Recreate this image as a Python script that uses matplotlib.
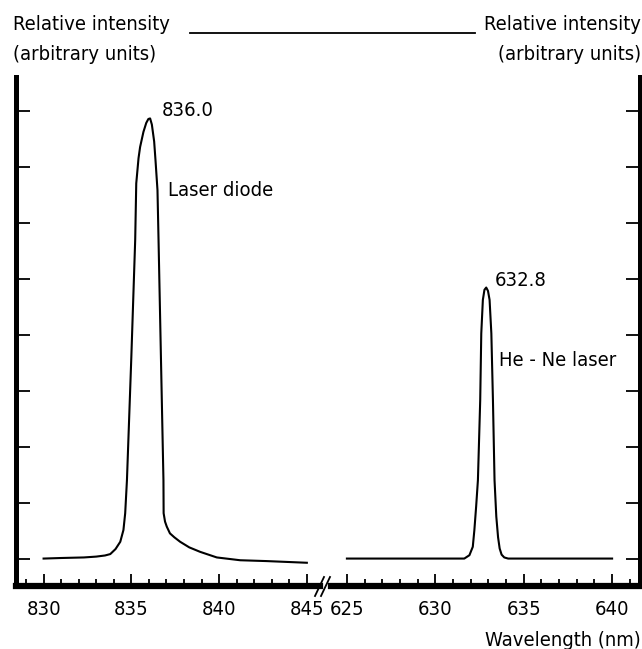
import matplotlib
matplotlib.use('Agg')
import matplotlib.pyplot as plt
from matplotlib.lines import Line2D
from matplotlib.ticker import MultipleLocator

# spectrum of the laser diode (nm, relative intensity)
laser_wl = [830.0, 831.0, 832.3, 833.0, 833.5, 833.8, 834.1, 834.37, 834.55, 834.65,
            834.75, 835.0, 835.22, 835.28, 835.41, 835.5, 835.69, 835.85, 835.97, 836.07,
            836.17, 836.3, 836.38, 836.49, 836.55, 836.69, 836.83, 836.84, 836.92, 837.02,
            837.2, 837.45, 837.78, 838.3, 838.92, 839.87, 841.2, 842.7, 845.0]
laser_int = [0.0, 0.01, 0.02, 0.035, 0.055, 0.08, 0.17, 0.3, 0.51, 0.81,
             1.40, 3.6, 5.69, 6.7, 7.15, 7.35, 7.62, 7.78, 7.85, 7.86,
             7.75, 7.45, 7.1, 6.58, 5.69, 3.54, 1.40, 0.81, 0.66, 0.57,
             0.45, 0.38, 0.30, 0.2, 0.12, 0.02, -0.03, -0.045, -0.075]

# He-Ne laser line
hene_wl = [625.0, 628.0, 631.0, 631.64, 631.93, 632.12, 632.21, 632.31, 632.41, 632.54,
           632.6, 632.69, 632.78, 632.88, 632.98, 633.07, 633.17, 633.26, 633.35, 633.45,
           633.55, 633.64, 633.75, 633.9, 634.12, 637.0, 640.0]
hene_int = [0.0, 0.0, 0.0, 0.0, 0.06, 0.21, 0.51, 0.93, 1.40, 2.83,
            4.02, 4.62, 4.80, 4.84, 4.78, 4.62, 4.02, 2.83, 1.40, 0.75,
            0.38, 0.18, 0.07, 0.02, 0.0, 0.0, 0.0]

left_ticks = [830, 835, 840, 845]
right_ticks = [625, 630, 635, 640]
y_ticks = [0, 1, 2, 3, 4, 5, 6, 7, 8]

# narrow lettering like the original drawing
plt.rcParams['font.family'] = 'DejaVu Sans'
plt.rcParams['font.stretch'] = 'condensed'

fs = 14.5
W, H = 642, 649

fig = plt.figure(figsize=(W / 100, H / 100), dpi=100)
ax1 = fig.add_axes([15.5 / W, 63 / H, (320 - 15.5) / W, 509 / H])
ax2 = fig.add_axes([331 / W, 63 / H, (639.5 - 331) / W, 509 / H])

ax1.plot(laser_wl, laser_int, color='black', lw=1.5)
ax2.plot(hene_wl, hene_int, color='black', lw=1.5)

ax1.set_xlim(828.4, 845.75)
ax2.set_xlim(624.1, 641.55)
for ax in (ax1, ax2):
    ax.set_ylim(-0.49, 8.6)
    ax.set_yticks(y_ticks)
    ax.set_yticklabels([])
    ax.xaxis.set_minor_locator(MultipleLocator(1))
    ax.tick_params(axis='x', which='major', direction='in', length=8.5, width=1.3,
                   pad=10, labelsize=fs)
    ax.tick_params(axis='x', which='minor', direction='in', length=5, width=1.3)
    ax.tick_params(axis='y', direction='in', length=10, width=1.3)
    ax.spines['top'].set_visible(False)
    ax.spines['bottom'].set_linewidth(4.5)

ax1.set_xticks(left_ticks)
ax2.set_xticks(right_ticks)
ax1.spines['right'].set_visible(False)
ax1.spines['left'].set_linewidth(3.6)
ax2.spines['left'].set_visible(False)
ax2.spines['right'].set_linewidth(3.6)
ax2.yaxis.tick_right()

# peak annotations
ax1.text(836.76, 8.01, '836.0', fontsize=fs, va='center', ha='left')
ax1.text(837.1, 6.58, 'Laser diode', fontsize=fs, va='center', ha='left')
ax2.text(633.34, 4.97, '632.8', fontsize=fs, va='center', ha='left')
ax2.text(633.62, 3.54, 'He - Ne laser', fontsize=fs, va='center', ha='left')

# axis titles
fig.text(13 / W, 1 - 25 / H, 'Relative intensity', fontsize=fs, va='center', ha='left')
fig.text(13 / W, 1 - 55 / H, '(arbitrary units)', fontsize=fs, va='center', ha='left')
fig.text(641 / W, 1 - 25 / H, 'Relative intensity', fontsize=fs, va='center', ha='right')
fig.text(641 / W, 1 - 55 / H, '(arbitrary units)', fontsize=fs, va='center', ha='right')
fig.add_artist(Line2D([190 / W, 475 / W], [1 - 33 / H, 1 - 33 / H],
                      transform=fig.transFigure, color='black', lw=1.3))
fig.text(641 / W, 1 - 640 / H, 'Wavelength (nm)', fontsize=fs, va='center', ha='right')

# break marks on the x axis
for dx in (0, 6):
    fig.add_artist(Line2D([(315 + dx) / W, (324 + dx) / W], [1 - 596 / H, 1 - 577 / H],
                          transform=fig.transFigure, color='black', lw=1.3))

fig.savefig('out.png', dpi=100)
